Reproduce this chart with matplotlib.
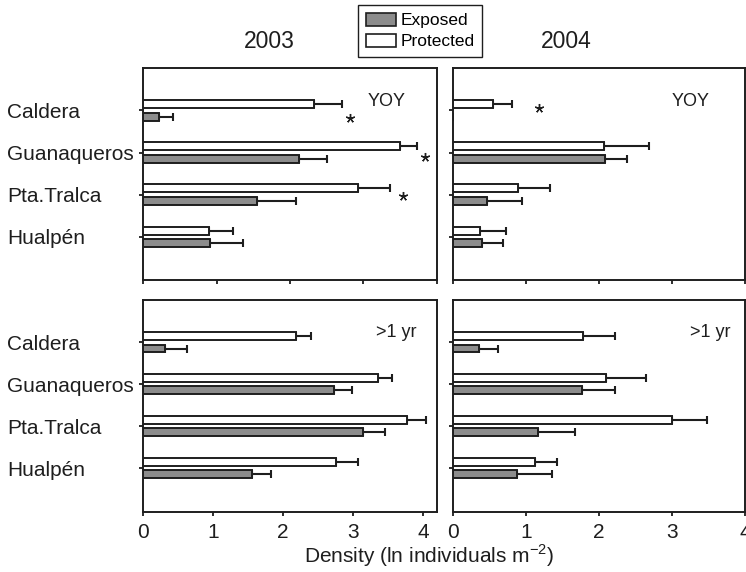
import numpy as np
import matplotlib
matplotlib.use("Agg")
import matplotlib.pyplot as plt
from matplotlib.patches import Patch

plt.rcParams["font.family"] = ["Liberation Sans", "DejaVu Sans"]

# ─── Data ─────────────────────────────────────────────────────────────────────
SITES = ["Caldera", "Guanaqueros", "Pta.Tralca", "Hualpén"]

# 2003, YOY
prot_03_yoy    = [2.33, 3.50, 2.92, 0.90]
prot_03_yoy_se = [0.38, 0.23, 0.44, 0.33]
exp_03_yoy     = [0.22, 2.12, 1.55, 0.91]
exp_03_yoy_se  = [0.19, 0.38, 0.53, 0.45]

# 2004, YOY (no exposed YOY at Caldera)
prot_04_yoy    = [0.55, 2.07, 0.89, 0.37]
prot_04_yoy_se = [0.26, 0.62, 0.44, 0.35]
exp_04_yoy     = [0.00, 2.08, 0.47, 0.40]
exp_04_yoy_se  = [0.00, 0.31, 0.47, 0.29]

# 2003, >1 yr
prot_03_adult    = [2.18, 3.36, 3.77, 2.75]
prot_03_adult_se = [0.22, 0.20, 0.27, 0.32]
exp_03_adult     = [0.32, 2.73, 3.15, 1.55]
exp_03_adult_se  = [0.31, 0.26, 0.31, 0.28]

# 2004, >1 yr
prot_04_adult    = [1.78, 2.09, 3.00, 1.12]
prot_04_adult_se = [0.44, 0.55, 0.48, 0.31]
exp_04_adult     = [0.36, 1.77, 1.16, 0.88]
exp_04_adult_se  = [0.25, 0.45, 0.51, 0.47]

# significance stars (x, y in data units)
stars_03_x = [2.82, 3.83, 3.54]
stars_03_y = [3.82, 2.90, 1.96]
stars_04_x = [1.18]
stars_04_y = [4.07]

X_TICKS = [0, 1, 2, 3, 4]

# ─── Style ────────────────────────────────────────────────────────────────────
INK   = "#1e1e1e"
GREY  = "#8c8c8c"
W, H  = 746, 572
OFF   = 0.146
BAR_H = 0.19

fig = plt.figure(figsize=(W / 100, H / 100), dpi=100)


def px_axes(x0, y0, x1, y1):
    return fig.add_axes([x0 / W, 1 - y1 / H, (x1 - x0) / W, (y1 - y0) / H])


def draw_panel(ax, prot, prot_se, exp, exp_se, xmax, tag, left, bottom):
    pos = np.array([4, 3, 2, 1], dtype=float)
    prot = np.array(prot); exp = np.array(exp)
    prot_se = np.array(prot_se); exp_se = np.array(exp_se)

    ax.barh(pos + OFF, prot, height=BAR_H, color="white", edgecolor=INK,
            linewidth=1.4, zorder=3)
    ax.barh(pos - OFF, exp, height=BAR_H, color=GREY, edgecolor=INK,
            linewidth=1.4, zorder=3)

    for vals, se, y in [(prot, prot_se, pos + OFF), (exp, exp_se, pos - OFF)]:
        m = vals > 0
        ax.errorbar(vals[m], y[m], xerr=[np.zeros(m.sum()), se[m]], fmt="none",
                    ecolor=INK, elinewidth=1.5, capsize=3, capthick=1.5, zorder=2)

    ax.set_xlim(0, xmax)
    ax.set_ylim(-0.03, 5.01)
    ax.set_xticks(X_TICKS)
    ax.set_yticks(pos)
    for s in ax.spines.values():
        s.set_linewidth(1.4)
        s.set_color(INK)
    ax.tick_params(axis="both", direction="out", length=3, width=1.3,
                   colors=INK, labelsize=15)
    ax.tick_params(axis="x", pad=5)
    if left:
        ax.set_yticklabels(SITES, ha="left")
        ax.tick_params(axis="y", pad=95)
    else:
        ax.set_yticklabels([])
    if not bottom:
        ax.set_xticklabels([])
    ax.text(tag[1], tag[2], tag[0], transform=ax.transAxes, ha="center",
            va="center", fontsize=13, color=INK)


ax_tl = px_axes(143, 68, 437, 280)
ax_tr = px_axes(453, 68, 745, 280)
ax_bl = px_axes(143, 300, 437, 511.5)
ax_br = px_axes(453, 300, 745, 511.5)

draw_panel(ax_tl, prot_03_yoy, prot_03_yoy_se, exp_03_yoy, exp_03_yoy_se,
           4.0, ("YOY", 0.828, 0.84), True, False)
draw_panel(ax_tr, prot_04_yoy, prot_04_yoy_se, exp_04_yoy, exp_04_yoy_se,
           4.0, ("YOY", 0.815, 0.84), False, False)
draw_panel(ax_bl, prot_03_adult, prot_03_adult_se, exp_03_adult, exp_03_adult_se,
           4.2, (">1 yr", 0.861, 0.844), True, True)
draw_panel(ax_br, prot_04_adult, prot_04_adult_se, exp_04_adult, exp_04_adult_se,
           4.0, (">1 yr", 0.88, 0.844), False, True)

star_kw = dict(marker=(5, 2, 0), ms=6.5, mew=1.0, color=INK, ls="none", zorder=4)
ax_tl.plot(stars_03_x, stars_03_y, **star_kw)
ax_tr.plot(stars_04_x, stars_04_y, **star_kw)

# year titles
fig.text(269 / W, 1 - 41 / H, "2003", ha="center", va="center", fontsize=16.5, color=INK)
fig.text(566 / W, 1 - 41 / H, "2004", ha="center", va="center", fontsize=16.5, color=INK)

# shared x label
fig.text(429 / W, 1 - 556 / H, "Density (ln individuals m$^{\\mathregular{-2}}$)",
         ha="center", va="center", fontsize=15, color=INK)

# legend
handles = [Patch(facecolor=GREY, edgecolor=INK, linewidth=1.2, label="Exposed"),
           Patch(facecolor="white", edgecolor=INK, linewidth=1.2, label="Protected")]
leg = fig.legend(handles=handles, loc="upper left",
                 bbox_to_anchor=(357.7 / W, 1 - 5 / H), borderaxespad=0,
                 fontsize=12.5, frameon=True, fancybox=False, framealpha=1,
                 edgecolor=INK, borderpad=0.45, handlelength=1.75,
                 handleheight=0.8, handletextpad=0.25, labelspacing=0.3)
leg.get_frame().set_linewidth(1.0)

fig.savefig("out.png", dpi=100)
